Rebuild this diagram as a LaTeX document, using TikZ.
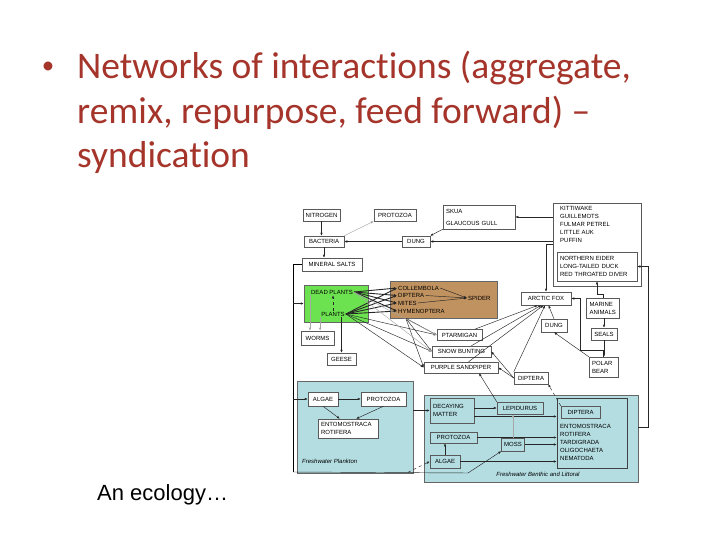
\documentclass[tikz,border=0pt]{standalone}
\usepackage{fontspec}
\usetikzlibrary{arrows.meta,calc}
\newfontfamily\titlefont[Ligatures=NoCommon]{Carlito}
\newfontfamily\labelfont{Liberation Sans}
\definecolor{slidered}{RGB}{165,52,42}
\definecolor{plantgreen}{RGB}{108,226,80}
\definecolor{soilbrown}{RGB}{192,146,96}
\definecolor{waterblue}{RGB}{180,221,226}

\begin{document}
\begin{tikzpicture}[x=1pt, y=-1pt,
  word/.style={inner sep=1pt, font=\labelfont\fontsize{6}{8}\selectfont},
  box/.style={word, draw=black!65, fill=white, line width=0.5pt, align=center},
  listbox/.style={box, align=left, inner sep=3pt},
  zone/.style={draw=black!60, line width=0.5pt},
  headline/.style={anchor=base west, font=\titlefont\fontsize{37.5}{45}\selectfont, text=slidered, inner sep=0pt},
  link/.style={draw=black!85, line width=0.45pt, -{Latex[length=3pt,width=2.4pt]}},
  faint/.style={link, draw=black!35},
  heavy/.style={link, line width=0.9pt}]

  % --- Page ---
  \useasboundingbox (0,0) rectangle (720,540);
  \fill[white] (0,0) rectangle (720,540);

  % --- Title and caption ---
  \node[headline, anchor=base, font=\titlefont\fontsize{25}{30}\selectfont] (dot) at (48,74) {•};
  \node[headline] (title1) at (77,79) {Networks of interactions (aggregate,};
  \node[headline] (title2) at (77,124) {remix, repurpose, feed forward) –};
  \node[headline] (title3) at (77,168) {syndication};
  \node[anchor=base west, font=\labelfont\fontsize{22}{26}\selectfont, inner sep=0pt] (caption) at (97,500) {An ecology…};

  % --- Zones ---
  \node[zone, fill=plantgreen, minimum width=64pt, minimum height=37pt] (flora) at (336,303.5) {};
  \node[zone, fill=soilbrown, minimum width=107pt, minimum height=37pt] (brown) at (443.5,299.5) {};
  \node[zone, fill=waterblue, minimum width=116pt, minimum height=92pt] (plankton) at (355,427) {};
  \node[zone, fill=waterblue, minimum width=214pt, minimum height=87pt] (benthic) at (531,438.5) {};
  \node[zone, draw=black!75, fill=waterblue, minimum width=70pt, minimum height=70pt] (inner) at (592,433) {};
  \node[zone, draw=black!65, fill=white, minimum width=88pt, minimum height=83pt] (seabirds) at (597,244.5) {};

  % --- Land ---
  \node[box, minimum width=37pt, minimum height=12pt] (nitrogen) at (321.5,215) {NITROGEN};
  \node[box, minimum width=42pt, minimum height=12pt] (protoT) at (395,215) {PROTOZOA};
  \node[box, minimum width=40pt, minimum height=11pt] (bacteria) at (324,241.5) {BACTERIA};
  \node[box, minimum width=28pt, minimum height=11pt] (dungT) at (416,241.5) {DUNG};
  \node[box, minimum width=60pt, minimum height=13pt] (salts) at (332,264.5) {MINERAL SALTS};
  \node[listbox, text width=66pt, minimum height=24pt, font=\labelfont\fontsize{6}{12}\selectfont] (skua) at (479,217) {SKUA\\GLAUCOUS GULL};
  \node[word, anchor=north west, align=left] (auks) at (559,205.5) {KITTIWAKE\\GUILLEMOTS\\FULMAR PETREL\\LITTLE AUK\\PUFFIN};
  \node[listbox, text width=74pt, minimum height=29pt] (ducks) at (597,266.5) {NORTHERN EIDER\\LONG-TAILED DUCK\\RED THROATED DIVER};

  \node[word] (dead) at (332,292) {DEAD PLANTS};
  \node[word] (plants) at (333,314) {PLANTS};
  \node[box, minimum width=33pt, minimum height=14pt] (worms) at (317.5,338) {WORMS};
  \node[box, minimum width=29pt, minimum height=12pt] (geese) at (341.5,359) {GEESE};

  \node[word, anchor=west] (colle) at (397,288) {COLLEMBOLA};
  \node[word, anchor=west] (dipt) at (397,295.5) {DIPTERA};
  \node[word, anchor=west] (mites) at (397,303) {MITES};
  \node[word, anchor=west] (hymen) at (397,311) {HYMENOPTERA};
  \node[word, anchor=west] (spider) at (467,298) {SPIDER};

  \node[box, minimum width=45pt, minimum height=11pt] (ptarmigan) at (459.5,335) {PTARMIGAN};
  \node[box, minimum width=59pt, minimum height=11pt] (bunting) at (461.5,351.5) {SNOW BUNTING};
  \node[box, minimum width=74pt, minimum height=11pt] (sandpiper) at (461,367.5) {PURPLE SANDPIPER};
  \node[box, minimum width=34pt, minimum height=12pt] (diptM) at (531,378) {DIPTERA};
  \node[box, minimum width=26pt, minimum height=13pt] (dungM) at (554,325.5) {DUNG};
  \node[box, minimum width=50pt, minimum height=13pt] (fox) at (546,298.5) {ARCTIC FOX};
  \node[listbox, text width=27pt, minimum height=20pt] (marine) at (603,308) {MARINE\\ANIMALS};
  \node[box, minimum width=26pt, minimum height=12pt] (seals) at (604,334) {SEALS};
  \node[listbox, text width=23pt, minimum height=20pt] (polar) at (603.5,367) {POLAR\\BEAR};

  % --- Water ---
  \node[box, minimum width=30pt, minimum height=14pt] (algaeP) at (323,399) {ALGAE};
  \node[box, minimum width=45pt, minimum height=14pt] (protoP) at (383.5,399) {PROTOZOA};
  \node[listbox, text width=54pt, minimum height=19pt] (entoP) at (348,428.5) {ENTOMOSTRACA\\ROTIFERA};
  \node[word, anchor=west, font=\labelfont\itshape\fontsize{6}{8}\selectfont] (planktonTag) at (301,461) {Freshwater Plankton};

  \node[listbox, text width=38pt, minimum height=25pt, fill=waterblue] (decay) at (452,410.5) {DECAYING\\MATTER};
  \node[box, fill=waterblue, minimum width=46pt, minimum height=12pt] (lepid) at (520,408) {LEPIDURUS};
  \node[box, fill=waterblue, minimum width=39pt, minimum height=12pt] (diptB) at (580.5,412) {DIPTERA};
  \node[word, anchor=north west, align=left] (benthos) at (559,423) {ENTOMOSTRACA\\ROTIFERA\\TARDIGRADA\\OLIGOCHAETA\\NEMATODA};
  \node[box, fill=waterblue, minimum width=47pt, minimum height=11pt] (protoB) at (453.5,437.5) {PROTOZOA};
  \node[box, fill=waterblue, minimum width=23pt, minimum height=13pt] (moss) at (513,444.5) {MOSS};
  \node[box, fill=waterblue, minimum width=30pt, minimum height=13pt] (algaeB) at (445,461.5) {ALGAE};
  \node[word, font=\labelfont\itshape\fontsize{6}{8}\selectfont] (benthicTag) at (538,474) {Freshwater Benthic and Littoral};

  % --- Soil links ---
  \draw[link] (nitrogen) -- (nitrogen |- bacteria.north);
  \draw[faint] (bacteria.north east) -- (protoT.south west);
  \draw[link] (dungT.west) -- (bacteria.east);
  \draw[link] (skua.south west) -- (dungT.north east);
  \draw[link] (bacteria.south) -- (bacteria.south |- salts.north);
  \draw[link] (seabirds.west |- skua.east) -- (skua.east);
  \draw[link] (seabirds.west |- dungT.east) -- (dungT.east);

  \coordinate (rail) at (293,472);
  \coordinate (knee) at (408,472.3);
  \coordinate (mossKnee) at (468,473);
  \draw (salts.west) -| (rail);
  \draw[link] (rail |- flora.west) -- (flora.west);
  \draw[link] (rail |- algaeP.west) -- (algaeP.west);
  \draw[link] (rail) -- (mossKnee) -- (moss.south west);
  \draw[link, dashed] (knee) -- (algaeB.west);

  % --- Plant links ---
  \draw[link, dashed] (plants.north) -- (plants.north |- dead.south);
  \draw[faint] (dead.south west) -- (dead.south west |- worms.north);
  \draw[faint] (plants.south west) -- (plants.south west |- worms.north);
  \draw[link] (geese.north |- plants.south) -- (geese.north);
  \foreach \src in {dead, plants}
    \foreach \bug in {colle, dipt, mites, hymen}
      \draw[heavy] (\src.east) -- (\bug.west);
  \foreach \bug in {colle, dipt, mites}
    \draw[link] (\bug.east) -- (spider.west);

  % --- Birds ---
  \coordinate (insects) at ($(brown.south west)+(16,0)$);
  \foreach \bird in {ptarmigan, bunting, sandpiper} {
    \draw[link] (plants.east) -- (\bird.west);
    \draw[link] (insects) -- (\bird.west);
  }
  \foreach \bird in {ptarmigan, bunting}
    \draw[faint] (dead.east) -- (\bird.west);
  \draw[link] (diptM.west) -- (bunting.east);
  \draw[link] (diptM.west) -- (sandpiper.east);
  \foreach \prey/\ang in {ptarmigan/220, bunting/235, sandpiper/250, diptM.north west/262}
    \draw[link] (\prey) -- (fox.\ang);
  \draw[link] (dungM.north) -- (fox.290);
  \draw[link] (polar.north west) -- (dungM.south);
  \draw[link] (seabirds.west) -| (fox.north);

  % --- Sea ---
  \draw[link] (marine.north) -- ++(0,-4) -| (ducks.south);
  \draw[link] (seals.north |- marine.south) -- (seals.north);
  \draw[link] (seals.south) -- (seals.south |- polar.north);
  \coordinate (bend) at (580,350);
  \draw[link] (polar.north) |- (bend) |- (fox.east);
  \coordinate (eastRail) at (648,427);
  \draw[link] (benthic.east |- eastRail) -- (eastRail) |- (ducks.east);

  % --- Water links ---
  \draw[link] (algaeP.east) -- (protoP.west);
  \draw[link] (algaeP.south) -- (entoP.130);
  \draw[link] (protoP.south) -- (entoP.50);
  \draw[link] (plankton.east |- decay.west) -- (decay.west);
  \draw[link] (decay.east |- lepid.west) -- (lepid.west);
  \draw[link] (decay.-15) -- (decay.-15 -| inner.west);
  \draw[heavy] (protoB.east) -- (protoB.east -| inner.west);
  \draw[link] (moss.east) -- (moss.east -| inner.west);
  \draw[link] (algaeB.east) -- (algaeB.east -| inner.west);
  \draw[link] (algaeB.north) -- (algaeB.north |- protoB.south);
  \draw[faint] (moss.north) -- (moss.north |- lepid.south);
  \draw[link] (lepid.north west) -- ($(sandpiper.south)+(18,0)$);
  \draw[link, dashed] (diptB.north west) -- (diptM.south east);

\end{tikzpicture}
\end{document}
